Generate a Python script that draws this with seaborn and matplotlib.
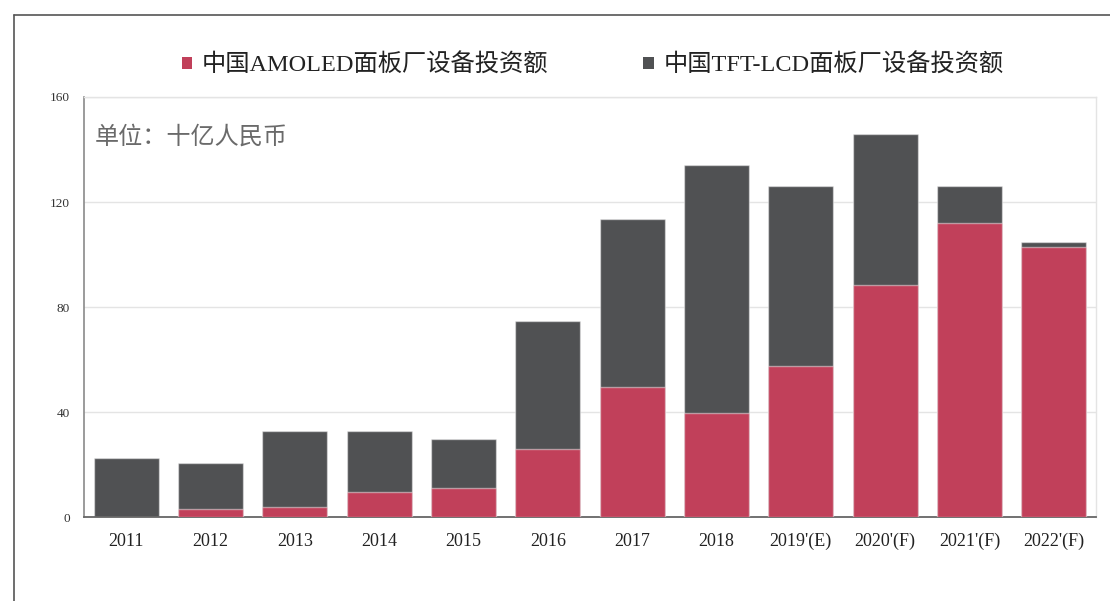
import matplotlib
matplotlib.use("Agg")
import matplotlib.pyplot as plt
from matplotlib.lines import Line2D
from matplotlib.patches import Patch
import pandas as pd
import seaborn as sns

# 中国面板厂设备投资额（十亿人民币）
years = ["2011", "2012", "2013", "2014", "2015", "2016", "2017", "2018",
         "2019'(E)", "2020'(F)", "2021'(F)", "2022'(F)"]
amoled = [0.0, 3.0, 4.0, 9.5, 11.1, 26.0, 49.7, 39.7, 57.6, 88.6, 111.9, 102.9]
tft_lcd = [22.7, 17.7, 29.0, 23.5, 18.6, 48.6, 63.8, 94.6, 68.4, 57.2, 14.1, 2.0]
y_ticks = [0, 40, 80, 120, 160]
series_names = ["中国AMOLED面板厂设备投资额", "中国TFT-LCD面板厂设备投资额"]
unit_text = "单位：十亿人民币"

RED = "#C1405A"
GREY = "#505153"

df = pd.DataFrame({"year": years, "amoled": amoled, "tft": tft_lcd})
df["total"] = df["amoled"] + df["tft"]

sns.set_theme(style="white")
FONTS = ["Liberation Serif", "Noto Sans CJK SC", "DejaVu Sans"]
plt.rcParams["font.family"] = FONTS

fig = plt.figure(figsize=(11.1, 6.01), dpi=100)
ax = fig.add_axes([84 / 1110, 1 - 517.3 / 601, (1096 - 84) / 1110, (517.3 - 97) / 601])

# stacked bars: full height in grey, AMOLED share drawn over it in red
edge = (1, 1, 1, 0.45)
sns.barplot(data=df, x="year", y="total", color=GREY, saturation=1, width=0.77,
            edgecolor=edge, linewidth=1.0, ax=ax, zorder=2)
amoled_df = df[df["amoled"] > 0]
sns.barplot(data=df, x="year", y="amoled", color=RED, saturation=1, width=0.77,
            edgecolor=edge, linewidth=1.0, ax=ax, zorder=3)
# no outline for zero-height segments
for bar, v in zip(ax.patches[len(years):], amoled):
    if v == 0:
        bar.set_linewidth(0)

ax.set_xlim(-0.5, len(years) - 0.5)
ax.set_ylim(0, 160)
ax.set_yticks(y_ticks)
ax.set_xlabel("")
ax.set_ylabel("")
ax.yaxis.grid(True, color="#e4e4e4", linewidth=1.0, zorder=0)
ax.set_axisbelow(True)
ax.tick_params(axis="both", length=0)
ax.tick_params(axis="y", labelsize=9.5, pad=10, labelcolor="#333333")
ax.tick_params(axis="x", labelsize=13, pad=11, labelcolor="#222222")

for side in ["top", "right"]:
    ax.spines[side].set_color("#e4e4e4")
    ax.spines[side].set_linewidth(1.0)
ax.spines["left"].set_color("#8a8a8a")
ax.spines["left"].set_linewidth(1.2)
ax.spines["bottom"].set_color("#666666")
ax.spines["bottom"].set_linewidth(1.3)

ax.text(0.011, 0.905, unit_text, transform=ax.transAxes, fontsize=17.4,
        color="#6a6a6a", ha="left", va="center", family=FONTS)

handles = [Patch(facecolor=RED, edgecolor="none"), Patch(facecolor=GREY, edgecolor="none")]
fig.legend(handles, series_names, loc="center", bbox_to_anchor=(0.534, 1 - 65 / 601),
           ncol=2, frameon=False, handlelength=0.42, handleheight=0.42,
           handletextpad=0.4, columnspacing=3.9, labelcolor="#222222",
           prop={"family": FONTS, "size": 17.5})

# outer frame lines along the top and left edges
fig.add_artist(Line2D([13.5 / 1110, 1.0], [1 - 15 / 601, 1 - 15 / 601],
                      transform=fig.transFigure, color="#555555", linewidth=1.2))
fig.add_artist(Line2D([13.5 / 1110, 13.5 / 1110], [0.0, 1 - 15 / 601],
                      transform=fig.transFigure, color="#555555", linewidth=1.2))

fig.savefig("out.png", dpi=100)
